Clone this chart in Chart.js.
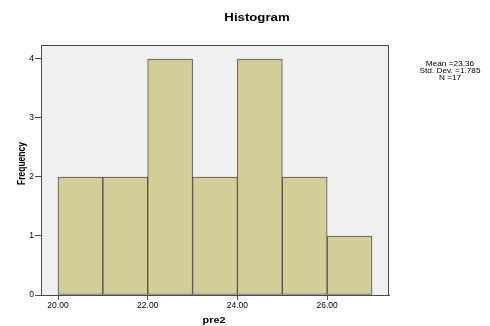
<!DOCTYPE html>
<html>
<head>
<meta charset="utf-8">
<script src="https://cdn.jsdelivr.net/npm/chart.js@4/dist/chart.umd.min.js"></script>
<style>
    body { margin: 0; background: #ffffff; }
    canvas { display: block; }
</style>
</head>
<body>
<canvas id="histChart" width="490" height="326"></canvas>
<script>
// Histogram data (bins of width 1)
const binStarts = [20, 21, 22, 23, 24, 25, 26];
const counts = [2, 2, 4, 2, 4, 2, 1];
const xTicks = [20, 22, 24, 26];
const yTicks = [0, 1, 2, 3, 4];
const statsLines = ['Mean =23.36', 'Std. Dev. =1.785', 'N =17'];

const fontFamily = '"Liberation Sans", Arial, sans-serif';
const frameColor = '#4a4a4a';

// SPSS output looks slightly stretched sideways, so text is drawn with a horizontal scale
function drawText(ctx, text, x, y, font, sx, rotated) {
    ctx.save();
    ctx.translate(x, y);
    ctx.scale(sx, 1);
    if (rotated) ctx.rotate(-Math.PI / 2);
    ctx.font = font;
    ctx.fillStyle = '#000';
    ctx.textAlign = 'center';
    ctx.textBaseline = 'alphabetic';
    ctx.fillText(text, 0, 0);
    ctx.restore();
}

const spssLook = {
    id: 'spssLook',
    beforeDraw(chart) {
        const { ctx, chartArea: a } = chart;
        ctx.save();
        ctx.fillStyle = '#f0f0f0';
        ctx.fillRect(a.left, a.top, a.right - a.left, a.bottom - a.top);
        ctx.restore();
    },
    afterDraw(chart) {
        const { ctx, chartArea: a } = chart;
        ctx.save();
        ctx.strokeStyle = frameColor;
        ctx.lineWidth = 1;
        ctx.strokeRect(a.left + 0.5, a.top + 0.5, a.right - a.left - 1, a.bottom - a.top);
        ctx.restore();

        drawText(ctx, 'Histogram', 257, 21, 'bold 11px ' + fontFamily, 1.2, false);
        drawText(ctx, 'Frequency', 24.5, 163.5, 'bold 8.5px ' + fontFamily, 1.2, true);
        drawText(ctx, 'pre2', 214, 322.5, 'bold 9px ' + fontFamily, 1.2, false);
        statsLines.forEach((line, i) => {
            drawText(ctx, line, 450, 65.5 + i * 7, '7.5px ' + fontFamily, 1.1, false);
        });
    }
};

const ctx = document.getElementById('histChart').getContext('2d');
new Chart(ctx, {
    type: 'bar',
    data: {
        datasets: [{
            data: binStarts.map((s, i) => ({ x: s + 0.5, y: counts[i] })),
            backgroundColor: '#d3ce98',
            borderColor: '#4f4f4f',
            borderWidth: 1,
            borderSkipped: false,
            barPercentage: 1,
            categoryPercentage: 1
        }]
    },
    options: {
        responsive: false,
        animation: false,
        layout: { padding: { left: 0, right: 101, top: 45, bottom: 0 } },
        plugins: {
            legend: { display: false },
            tooltip: { enabled: false }
        },
        scales: {
            x: {
                type: 'linear',
                min: 19.621,
                max: 27.379,
                offset: false,
                grid: { display: true, drawOnChartArea: false, drawTicks: true, tickLength: 5, color: frameColor, offset: false },
                border: { display: true, color: frameColor },
                afterBuildTicks: scale => { scale.ticks = xTicks.map(v => ({ value: v })); },
                afterFit: scale => { scale.height = 31; },
                ticks: {
                    autoSkip: false,
                    maxRotation: 0,
                    padding: 1,
                    color: '#000',
                    font: { family: fontFamily, size: 8.5 },
                    callback: v => Number(v).toFixed(2)
                }
            },
            y: {
                min: 0,
                max: 4.237,
                grid: { display: true, drawOnChartArea: false, drawTicks: true, tickLength: 6, color: frameColor },
                border: { display: true, color: frameColor },
                afterBuildTicks: scale => { scale.ticks = yTicks.map(v => ({ value: v })); },
                afterFit: scale => { scale.width = 41; },
                ticks: {
                    padding: 1,
                    color: '#000',
                    font: { family: fontFamily, size: 8.5 }
                }
            }
        }
    },
    plugins: [spssLook]
});
</script>
</body>
</html>
